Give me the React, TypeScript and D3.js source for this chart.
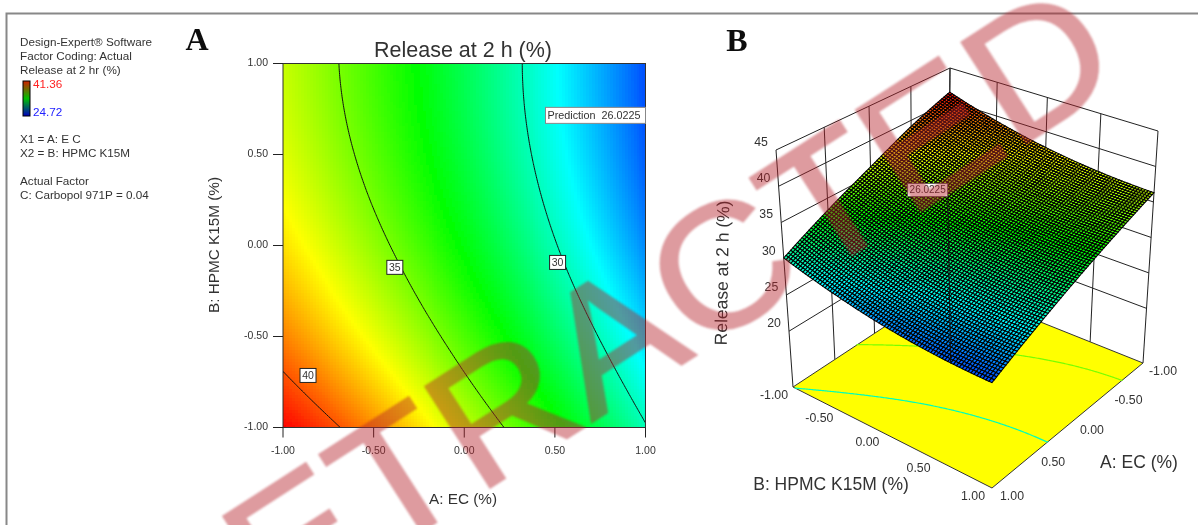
import React from "react";
import * as d3 from "d3";

const WIDTH = 1198;
const HEIGHT = 525;

// coded factor levels and the response
const responseGrid = [
  [41.36, 39.1, 36.25, 33.35, 30.1], // B = -1.00
  [39.26, 36.93, 34.3, 31.46, 28.32], // B = -0.50
  [37.71, 35.44, 32.9, 30.08, 26.99], // B = 0.00
  [36.73, 34.51, 32.03, 29.26, 26.23], // B = 0.50
  [36.3, 34.14, 31.71, 28.99, 26.02], // B = 1.00
];
const contourLevels = [30, 35, 40];
const contourLabels = [
  { level: 35, a: -0.383, b: -0.12 },
  { level: 30, a: 0.515, b: -0.093 },
  { level: 40, a: -0.862, b: -0.714 },
];
const axisTicks = [-1, -0.5, 0, 0.5, 1];
const zTicks = [20, 25, 30, 35, 40, 45];
const zFloor = 12.3;
const predictionValue = "26.0225";

const legendLines = [
  { text: "Design-Expert® Software", y: 46 },
  { text: "Factor Coding: Actual", y: 60 },
  { text: "Release at 2 hr (%)", y: 74 },
  { text: "X1 = A: E C", y: 143 },
  { text: "X2 = B: HPMC K15M", y: 157 },
  { text: "Actual Factor", y: 185 },
  { text: "C: Carbopol 971P = 0.04", y: 199 },
];
const legendBarColors = ["#d02000", "#00c000", "#0000c0"];

const colorStops = [24.72, 28.88, 33.04, 37.2, 41.36];
const colorRange = ["#0000ff", "#00ffff", "#00ff00", "#ffff00", "#ff0000"];
const color = d3.scaleLinear<string>().domain(colorStops).range(colorRange).clamp(true);

const catmull = (p0: number, p1: number, p2: number, p3: number, t: number) =>
  0.5 * (2 * p1 + (p2 - p0) * t + (2 * p0 - 5 * p1 + 4 * p2 - p3) * t * t + (3 * p1 - p0 - 3 * p2 + p3) * t * t * t);

// smooth lookup between the read values
function response(a: number, b: number) {
  const pos = (v: number) => {
    const x = Math.min(3.9999, Math.max(0, (v + 1) * 2));
    return [Math.floor(x), x - Math.floor(x)];
  };
  const [ia, ta] = pos(a);
  const [ib, tb] = pos(b);
  const row = (j: number) => {
    const r = responseGrid[j];
    const at = (k: number) => {
      if (k < 0) return 3 * r[0] - 3 * r[1] + r[2];
      if (k > 4) return 3 * r[4] - 3 * r[3] + r[2];
      return r[k];
    };
    return catmull(at(ia - 1), at(ia), at(ia + 1), at(ia + 2), ta);
  };
  const r0 = ib - 1 < 0 ? 3 * row(0) - 3 * row(1) + row(2) : row(ib - 1);
  const r3 = ib + 2 > 4 ? 3 * row(4) - 3 * row(3) + row(2) : row(ib + 2);
  return catmull(r0, row(ib), row(ib + 1), r3, tb);
}

// 2D plot scales
const xA = d3.scaleLinear().domain([-1, 1]).range([283, 645.5]);
const yA = d3.scaleLinear().domain([-1, 1]).range([427.5, 63.5]);

const HEAT_N = 122;
const heatCells = d3.range(HEAT_N).flatMap((j) =>
  d3.range(HEAT_N).map((i) => ({ i, j, a: -1 + (2 * (i + 0.5)) / HEAT_N, b: -1 + (2 * (j + 0.5)) / HEAT_N }))
);

// iso lines from d3.contours, with the segments that run along the border dropped
const CONTOUR_N = 201;
const contourValues = new Array(CONTOUR_N * CONTOUR_N);
for (let j = 0; j < CONTOUR_N; j++)
  for (let i = 0; i < CONTOUR_N; i++)
    contourValues[j * CONTOUR_N + i] = response(-1 + (2 * i) / (CONTOUR_N - 1), -1 + (2 * j) / (CONTOUR_N - 1));

const contourGen = d3.contours().size([CONTOUR_N, CONTOUR_N]).thresholds(contourLevels);
const isoLines = contourGen(contourValues).map((mp) => {
  const lines: [number, number][][] = [];
  const onEdge = (p: number[], q: number[]) =>
    (p[0] === q[0] && (p[0] === 0 || p[0] === CONTOUR_N)) || (p[1] === q[1] && (p[1] === 0 || p[1] === CONTOUR_N));
  const toCoded = (p: number[]): [number, number] => [
    Math.max(-1, Math.min(1, -1 + (2 * (p[0] - 0.5)) / (CONTOUR_N - 1))),
    Math.max(-1, Math.min(1, -1 + (2 * (p[1] - 0.5)) / (CONTOUR_N - 1))),
  ];
  mp.coordinates.forEach((poly) =>
    poly.forEach((ring) => {
      let cur: [number, number][] = [];
      for (let k = 1; k < ring.length; k++) {
        if (onEdge(ring[k - 1], ring[k])) {
          if (cur.length) lines.push(cur);
          cur = [];
        } else {
          if (!cur.length) cur.push(toCoded(ring[k - 1]));
          cur.push(toCoded(ring[k]));
        }
      }
      if (cur.length) lines.push(cur);
    })
  );
  return { level: mp.value, lines };
});

// 3D box: screen corners of the floor and the ceiling, in order
// (A-1,B-1) (A+1,B-1) (A+1,B+1) (A-1,B+1)
const floorQuad = [[948, 285], [793, 387], [992, 488], [1143, 363]];
const topQuad = [[950, 68], [776, 150], [992, 237], [1158, 131]];

function squareToQuad(q: number[][]) {
  const [[x0, y0], [x1, y1], [x2, y2], [x3, y3]] = q;
  const dx1 = x1 - x2, dx2 = x3 - x2, sx = x0 - x1 + x2 - x3;
  const dy1 = y1 - y2, dy2 = y3 - y2, sy = y0 - y1 + y2 - y3;
  const det = dx1 * dy2 - dx2 * dy1;
  const g = (sx * dy2 - dx2 * sy) / det;
  const h = (dx1 * sy - sx * dy1) / det;
  return (u: number, v: number): [number, number] => {
    const w = g * u + h * v + 1;
    return [
      ((x1 - x0 + g * x1) * u + (x3 - x0 + h * x3) * v + x0) / w,
      ((y1 - y0 + g * y1) * u + (y3 - y0 + h * y3) * v + y0) / w,
    ];
  };
}
const floorMap = squareToQuad(floorQuad);
const topMap = squareToQuad(topQuad);
const zUnit = d3.scaleLinear().domain([zFloor, 45]).range([0, 1]);

function project(a: number, b: number, z: number): [number, number] {
  const u = (a + 1) / 2, v = (b + 1) / 2;
  const f = floorMap(u, v), t = topMap(u, v), k = zUnit(z);
  return [f[0] + (t[0] - f[0]) * k, f[1] + (t[1] - f[1]) * k];
}

const line3d = d3.line();

const MESH_N = 78;
const meshCells = d3.range(MESH_N).flatMap((j) =>
  d3.range(MESH_N).map((i) => {
    const a0 = -1 + (2 * i) / MESH_N, a1 = -1 + (2 * (i + 1)) / MESH_N;
    const b0 = -1 + (2 * j) / MESH_N, b1 = -1 + (2 * (j + 1)) / MESH_N;
    const corners: [number, number][] = [[a0, b0], [a1, b0], [a1, b1], [a0, b1]];
    const pts = corners.map(([a, b]) => project(a, b, response(a, b)));
    return { key: `${i}-${j}`, d: line3d(pts) + "Z", fill: color(response((a0 + a1) / 2, (b0 + b1) / 2)) };
  })
);

const fmt = (v: number) => d3.format(".2f")(v).replace("−", "-");
const sans = "'Liberation Sans', Arial, sans-serif";
const TICK = "#333";

const pinBottom = project(1, 0.64, response(1, 0.64));
const pinTop = project(1, 0.64, 48.8);

export default function App() {
  return (
    <svg
      width={WIDTH}
      height={HEIGHT}
      viewBox={`0 0 ${WIDTH} ${HEIGHT}`}
      style={{ position: "absolute", left: 0, top: 0, display: "block", background: "#fff" }}
      fontFamily={sans}
    >
      <defs>
        <linearGradient id="legendBar" x1="0" x2="0" y1="0" y2="1">
          {legendBarColors.map((c, i) => (
            <stop key={c} offset={i / 2} stopColor={c} />
          ))}
        </linearGradient>
        <clipPath id="plotClip">
          <rect x={xA(-1)} y={yA(1)} width={xA(1) - xA(-1)} height={yA(-1) - yA(1)} />
        </clipPath>
        <filter id="soft" x="-5%" y="-5%" width="110%" height="110%">
          <feGaussianBlur stdDeviation="0.9" />
        </filter>
        <filter id="pageSoft" filterUnits="userSpaceOnUse" x={0} y={0} width={WIDTH} height={HEIGHT}>
          <feGaussianBlur stdDeviation="0.4" />
        </filter>
      </defs>

      <g filter="url(#pageSoft)">
        <path d={`M6.5 525V13.5H1198`} fill="none" stroke="#888" strokeWidth={2} />

        {/* side legend */}
        <g fontSize={11.7} fill="#333">
          {legendLines.map((l) => (
            <text key={l.text} x={20} y={l.y}>
              {l.text}
            </text>
          ))}
          <text x={33} y={88} fill="#ff2020">41.36</text>
          <text x={33} y={116} fill="#2020ff">24.72</text>
        </g>
        <rect x={23} y={81} width={7} height={35} fill="url(#legendBar)" stroke="#000" strokeWidth={1} />

        <text x={197} y={50} fontFamily="'Liberation Serif', serif" fontWeight="bold" fontSize={32} textAnchor="middle" fill="#111">A</text>
        <text x={737} y={51} fontFamily="'Liberation Serif', serif" fontWeight="bold" fontSize={32} textAnchor="middle" fill="#111">B</text>

        {/* A: contour plot */}
        <text x={463} y={57} fontSize={21.5} textAnchor="middle" fill="#333">Release at 2 h (%)</text>
        <g shapeRendering="crispEdges">
          {heatCells.map((c) => (
            <rect
              key={`${c.i}-${c.j}`}
              x={xA(c.a) - 1.55}
              y={yA(c.b) - 1.55}
              width={3.1}
              height={3.1}
              fill={color(response(c.a, c.b))}
            />
          ))}
        </g>
        <g clipPath="url(#plotClip)" fill="none" stroke="#111" strokeWidth={1}>
          {isoLines.map((iso) =>
            iso.lines.map((l, i) => (
              <path key={`${iso.level}-${i}`} d={line3d(l.map(([a, b]) => [xA(a), yA(b)])) ?? ""} />
            ))
          )}
        </g>
        <rect x={xA(-1)} y={yA(1)} width={xA(1) - xA(-1)} height={yA(-1) - yA(1)} fill="none" stroke="#333" strokeWidth={1} />
        <g stroke="#222" strokeWidth={1}>
          {axisTicks.map((t) => (
            <line key={`xt${t}`} x1={xA(t)} x2={xA(t)} y1={yA(-1)} y2={yA(-1) + 10} />
          ))}
          {axisTicks.map((t) => (
            <line key={`yt${t}`} x1={xA(-1) - 10} x2={xA(-1)} y1={yA(t)} y2={yA(t)} />
          ))}
        </g>
        <g fontSize={10.5} fill={TICK}>
          {axisTicks.map((t) => (
            <text key={`xl${t}`} x={xA(t)} y={454} textAnchor="middle">{fmt(t)}</text>
          ))}
          {axisTicks.map((t) => (
            <text key={`yl${t}`} x={268} y={yA(t) + 2} textAnchor="end">{fmt(t)}</text>
          ))}
        </g>
        <text x={463} y={504} fontSize={15.3} textAnchor="middle" fill="#333">A: EC (%)</text>
        <text transform={`translate(219,245) rotate(-90)`} fontSize={15.3} textAnchor="middle" fill="#333">B: HPMC K15M (%)</text>

        {contourLabels.map((c) => (
          <g key={c.level} transform={`translate(${xA(c.a)},${yA(c.b)})`}>
            <rect x={-8} y={-7} width={16} height={14} fill="#fff" stroke="#222" strokeWidth={1} />
            <text y={3.7} fontSize={10.5} textAnchor="middle" fill="#333">{c.level}</text>
          </g>
        ))}
        <g transform={`translate(${xA(1)},${yA(0.715)})`}>
          <rect x={-100} y={-8} width={100} height={16} fill="#fff" stroke="#888" strokeWidth={1} />
          <text x={-98} y={3.5} fontSize={10.8} fill="#333" xmlSpace="preserve">{`Prediction  ${predictionValue}`}</text>
        </g>

        {/* B: walls behind the surface */}
        <g fill="none" stroke="#222" strokeWidth={1}>
          {axisTicks.map((t) => (
            <path key={`wa${t}`} d={line3d([project(t, -1, zFloor), project(t, -1, 45)]) ?? ""} />
          ))}
          {axisTicks.map((t) => (
            <path key={`wb${t}`} d={line3d([project(-1, t, zFloor), project(-1, t, 45)]) ?? ""} />
          ))}
          {zTicks.map((z) => (
            <path key={`wz${z}`} d={line3d([project(1, -1, z), project(-1, -1, z), project(-1, 1, z)]) ?? ""} />
          ))}
        </g>

        {/* floor with the projected contours */}
        <path d={line3d(floorQuad as [number, number][]) + "Z"} fill="#ffff00" stroke="#333" strokeWidth={1} />
        <g fill="none" strokeWidth={1.2}>
          {isoLines.map((iso) =>
            iso.lines.map((l, i) => (
              <path key={`f${iso.level}-${i}`} stroke={color(iso.level)} d={line3d(l.map(([a, b]) => project(a, b, zFloor))) ?? ""} />
            ))
          )}
        </g>

        {/* response surface */}
        <g stroke="#000" strokeWidth={1.05}>
          {meshCells.map((m) => (
            <path key={m.key} d={m.d} fill={m.fill} />
          ))}
        </g>
        <path d={line3d([pinBottom, pinTop]) ?? ""} stroke="#111" strokeWidth={1} />
        <g transform={`translate(${pinTop[0]},${pinTop[1]})`}>
          <rect x={-40} y={-7} width={40} height={13} fill="#fff" stroke="#555" strokeWidth={0.8} />
          <text x={-20} y={3} fontSize={10} textAnchor="middle" fill="#333">{predictionValue}</text>
        </g>

        {/* B: axis labels */}
        <g fontSize={12.3} fill={TICK}>
          {zTicks.map((z) => {
            const [x, y] = project(1, -1, z);
            return <text key={`z${z}`} x={x - 15} y={y - 4} textAnchor="middle">{z}</text>;
          })}
          {axisTicks.map((t) => {
            const [x, y] = project(1, t, zFloor);
            return <text key={`bl${t}`} x={x - 19} y={y + 12} textAnchor="middle">{fmt(t)}</text>;
          })}
          {axisTicks.map((t) => {
            const [x, y] = project(t, 1, zFloor);
            return <text key={`al${t}`} x={x + 20} y={y + 12} textAnchor="middle">{fmt(t)}</text>;
          })}
        </g>
        <text x={831} y={490} fontSize={17.5} textAnchor="middle" fill="#333">B: HPMC K15M (%)</text>
        <text x={1139} y={468} fontSize={17.5} textAnchor="middle" fill="#333">A: EC (%)</text>
        <text transform="translate(728,273) rotate(-89)" fontSize={17.5} textAnchor="middle" fill="#333">Release at 2 h (%)</text>
      </g>

      {/* retraction stamp */}
      <g opacity={0.45} filter="url(#soft)">
        <text
          transform="translate(161,699) rotate(-32.7) scale(1,0.93)"
          fontSize={188}
          fill="#b6232c"
          stroke="#b6232c"
          strokeWidth={2}
          style={{ fontKerning: "none" }}
        >
          RETRACTED
        </text>
      </g>
    </svg>
  );
}
